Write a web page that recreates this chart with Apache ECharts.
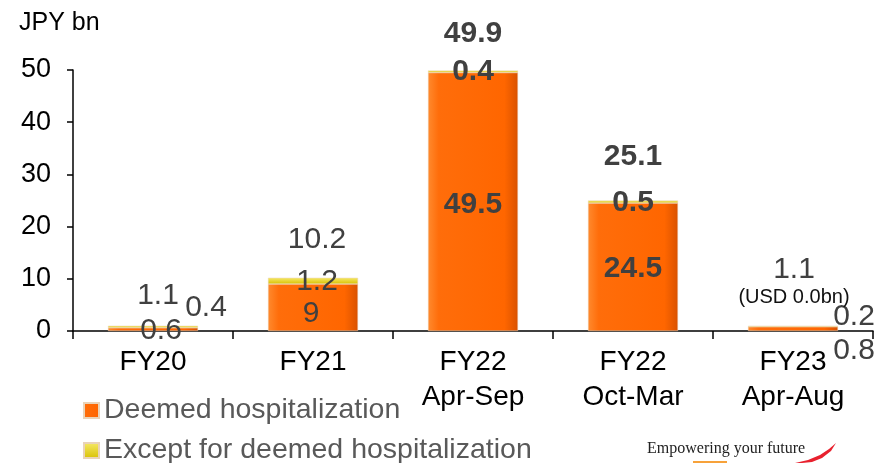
<!DOCTYPE html>
<html>
<head>
<meta charset="utf-8">
<script src="https://cdn.jsdelivr.net/npm/echarts@6/dist/echarts.min.js"></script>
<style>
  html, body { margin: 0; padding: 0; background: #fff; }
  #chart { width: 878px; height: 463px; }
</style>
</head>
<body>
<div id="chart"></div>
<script>
// Claims paid, JPY bn
const categories = ['FY20', 'FY21', 'FY22\nApr-Sep', 'FY22\nOct-Mar', 'FY23\nApr-Aug'];
const deemed = [0.6, 9, 49.5, 24.5, 0.8];
const exceptDeemed = [0.4, 1.2, 0.4, 0.5, 0.2];
const totals = ['1.1', '10.2', '49.9', '25.1', '1.1'];
const usdNotes = ['', '', '', '', '(USD 0.0bn)'];
const deemedLabels = ['0.6', '9', '49.5', '24.5', '0.8'];
const exceptLabels = ['0.4', '1.2', '0.4', '0.5', '0.2'];

// Label placement (pixel offsets) and emphasis per bar
const boldIdx = [2, 3];
const deemedOffsets = [[8, 1], [-2, 6], [0, 3], [0, 2], [61, 22]];
const exceptOffsets = [[53, -19], [4, 1], [0, 0], [0, 1], [61, -10]];
const totalOffsets = [[5, -30], [4, -38], [0, -37], [0, -44], [1, -42]];

const FONT = '"Liberation Sans", Arial, sans-serif';
const LABEL_COLOR = '#404040';

function labelStyle(i, text, offset) {
  return {
    show: true,
    position: 'inside',
    offset: offset,
    formatter: text,
    color: LABEL_COLOR,
    fontFamily: FONT,
    fontSize: 30,
    fontWeight: boldIdx.includes(i) ? 'bold' : 'normal'
  };
}

const orangeFill = {
  type: 'linear', x: 0, y: 0, x2: 1, y2: 0,
  colorStops: [
    { offset: 0, color: '#ff8a2e' },
    { offset: 0.12, color: '#ff6d0a' },
    { offset: 0.85, color: '#ff6600' },
    { offset: 1, color: '#d95200' }
  ]
};
const yellowFill = {
  type: 'linear', x: 0, y: 0, x2: 0, y2: 1,
  colorStops: [
    { offset: 0, color: '#f6ea6a' },
    { offset: 1, color: '#d8c000' }
  ]
};

const deemedData = deemed.map((v, i) => ({
  value: v,
  label: labelStyle(i, deemedLabels[i], deemedOffsets[i])
}));
const exceptData = exceptDeemed.map((v, i) => ({
  value: v,
  label: labelStyle(i, exceptLabels[i], exceptOffsets[i])
}));
const totalData = deemed.map((v, i) => {
  const bold = boldIdx.includes(i);
  return {
    value: [i, v + exceptDeemed[i]],
    label: {
      show: true,
      position: 'inside',
      offset: totalOffsets[i],
      formatter: usdNotes[i] ? '{t|' + totals[i] + '}\n{u|' + usdNotes[i] + '}' : '{t|' + totals[i] + '}',
      rich: {
        t: { fontSize: 30, fontFamily: FONT, color: LABEL_COLOR, fontWeight: bold ? 'bold' : 'normal', lineHeight: 28 },
        u: { fontSize: 20, fontFamily: FONT, color: '#111', lineHeight: 28 }
      }
    }
  };
});

const legendText = { fontFamily: FONT, fontSize: 28.5, color: '#595959' };

const chart = echarts.init(document.getElementById('chart'), null, { renderer: 'canvas' });
chart.setOption({
  animation: false,
  title: {
    text: 'JPY bn',
    left: 14,
    top: 6,
    textStyle: { fontFamily: FONT, fontSize: 25, fontWeight: 'normal', color: '#000' }
  },
  grid: { left: 73, right: 5, top: 70, bottom: 132 },
  legend: [
    {
      left: 78, top: 391, itemWidth: 15, itemHeight: 15, icon: 'rect',
      data: ['Deemed hospitalization'], textStyle: legendText
    },
    {
      left: 78, top: 431, itemWidth: 15, itemHeight: 15, icon: 'rect',
      data: ['Except for deemed hospitalization'], textStyle: legendText
    }
  ],
  xAxis: {
    type: 'category',
    data: categories,
    axisLine: { lineStyle: { color: '#000', width: 1.5 } },
    axisTick: { show: true, alignWithLabel: false, length: 8, lineStyle: { color: '#000', width: 1.5 } },
    axisLabel: { fontFamily: FONT, fontSize: 28, color: '#000', lineHeight: 35, margin: 14 }
  },
  yAxis: {
    type: 'value',
    min: 0,
    max: 50,
    interval: 10,
    splitLine: { show: false },
    axisLine: { show: true, lineStyle: { color: '#000', width: 1.5 } },
    axisTick: { show: true, length: 6, lineStyle: { color: '#000', width: 1.5 } },
    axisLabel: { fontFamily: FONT, fontSize: 27, color: '#000', margin: 22 }
  },
  series: [
    {
      name: 'Deemed hospitalization',
      type: 'bar',
      stack: 'claims',
      barWidth: 90,
      itemStyle: { color: orangeFill, borderColor: '#e9d3b8', borderWidth: 0.5 },
      data: deemedData
    },
    {
      name: 'Except for deemed hospitalization',
      type: 'bar',
      stack: 'claims',
      barWidth: 90,
      itemStyle: { color: yellowFill, borderColor: '#e9d3b8', borderWidth: 0.5 },
      data: exceptData
    },
    {
      name: 'Total',
      type: 'scatter',
      symbolSize: 0,
      silent: true,
      z: 5,
      itemStyle: { opacity: 1, color: 'rgba(0,0,0,0)' },
      data: totalData
    }
  ],
  graphic: [
    {
      type: 'text',
      left: 647,
      top: 441,
      style: { text: 'Empowering your future', font: '16px "Liberation Serif", "DejaVu Serif", serif', fill: '#222' }
    },
    {
      type: 'polygon',
      shape: { points: [[795, 463], [808, 460], [820, 455], [829, 449], [836, 443], [831, 451], [822, 458], [812, 462], [802, 463]] },
      style: { fill: '#e8212e' }
    },
    {
      type: 'rect',
      shape: { x: 693, y: 461, width: 34, height: 2 },
      style: { fill: '#f7a23a' }
    }
  ]
});
</script>
</body>
</html>
